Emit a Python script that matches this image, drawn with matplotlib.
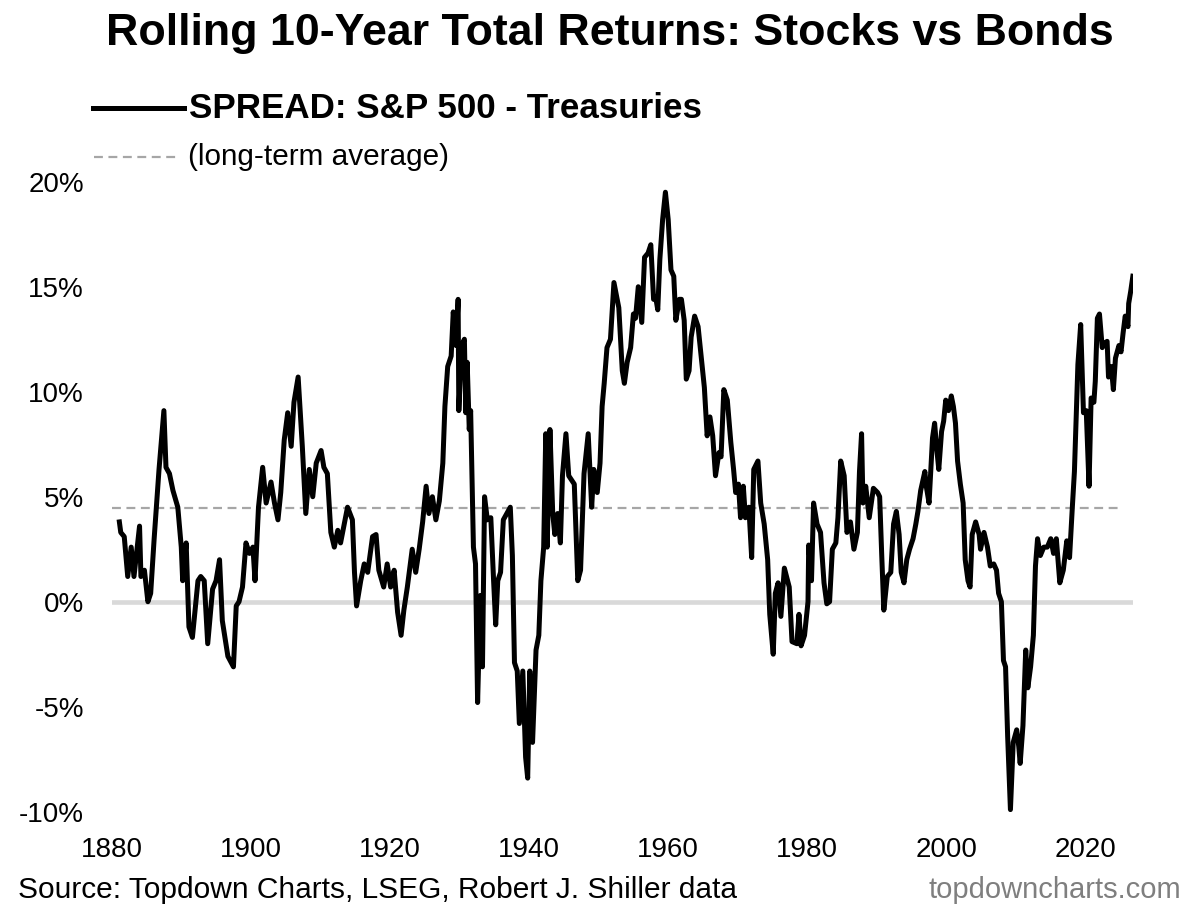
import matplotlib
matplotlib.use("Agg")
import matplotlib.pyplot as plt
from matplotlib.lines import Line2D
import numpy as np

plt.rcParams['font.family'] = ['Liberation Sans', 'DejaVu Sans']

# rolling 10y spread (S&P 500 total return minus Treasuries), % p.a.
years = [
    1881.1, 1881.3, 1881.8, 1882.3, 1882.8, 1883.2, 1884.0, 1884.2, 1884.7, 1885.2,
    1885.6, 1886.1, 1886.8, 1887.5, 1887.8, 1888.3, 1888.8, 1889.5, 1890.0, 1890.2,
    1890.7, 1891.1, 1891.6, 1892.4, 1892.8, 1893.3, 1893.8, 1894.5, 1895.0, 1895.5,
    1895.9, 1896.7, 1897.5, 1897.9, 1898.3, 1898.8, 1899.3, 1899.8, 1900.3, 1900.6,
    1901.1, 1901.7, 1902.2, 1902.9, 1903.4, 1903.9, 1904.3, 1904.8, 1905.3, 1905.8,
    1906.2, 1906.8, 1907.4, 1907.9, 1908.4, 1908.9, 1909.4, 1910.1, 1910.5, 1911.0,
    1911.5, 1912.0, 1912.5, 1912.9, 1913.9, 1914.6, 1914.9, 1915.2, 1915.8, 1916.3,
    1916.8, 1917.5, 1918.0, 1918.4, 1919.1, 1919.6, 1920.1, 1920.6, 1921.1, 1921.6,
    1922.0, 1922.5, 1923.2, 1923.7, 1924.2, 1924.7, 1925.2, 1925.6, 1926.1, 1926.6,
    1927.1, 1927.6, 1927.9, 1928.3, 1928.8, 1929.1, 1929.5, 1929.8, 1929.9, 1930.3,
    1930.7, 1930.9, 1931.1, 1931.4, 1931.6, 1932.0, 1932.3, 1932.6, 1933.0, 1933.3,
    1933.6, 1934.0, 1934.5, 1934.9, 1935.2, 1935.5, 1935.9, 1936.3, 1936.8, 1937.3,
    1937.6, 1937.9, 1938.3, 1938.6, 1939.1, 1939.5, 1939.8, 1940.1, 1940.5, 1941.0,
    1941.4, 1941.7, 1942.1, 1942.4, 1942.6, 1943.0, 1943.4, 1943.7, 1944.1, 1944.5,
    1944.8, 1945.3, 1945.7, 1946.5, 1947.0, 1947.4, 1947.9, 1948.5, 1949.0, 1949.3,
    1949.8, 1950.2, 1950.5, 1950.8, 1951.2, 1951.7, 1952.2, 1952.9, 1953.4, 1953.7,
    1954.1, 1954.6, 1955.0, 1955.3, 1955.7, 1956.2, 1956.6, 1957.1, 1957.5, 1957.9,
    1958.2, 1958.5, 1958.8, 1959.2, 1959.6, 1960.0, 1960.4, 1960.8, 1961.1, 1961.6,
    1961.9, 1962.3, 1962.6, 1963.0, 1963.3, 1963.8, 1964.3, 1964.7, 1965.2, 1965.6,
    1966.0, 1966.4, 1966.8, 1967.3, 1967.6, 1968.0, 1968.5, 1969.0, 1969.4, 1969.7,
    1970.1, 1970.4, 1970.8, 1971.1, 1971.6, 1972.0, 1972.3, 1972.9, 1973.3, 1973.8,
    1974.3, 1974.6, 1975.1, 1975.4, 1975.8, 1976.2, 1976.7, 1977.4, 1977.8, 1978.5,
    1978.8, 1979.1, 1979.6, 1980.1, 1980.2, 1980.6, 1980.9, 1981.4, 1981.9, 1982.4,
    1982.8, 1983.2, 1983.6, 1984.1, 1984.4, 1984.8, 1985.3, 1985.7, 1986.2, 1986.7,
    1987.2, 1987.5, 1987.8, 1988.0, 1988.4, 1988.9, 1989.5, 1990.1, 1990.4, 1990.7,
    1991.0, 1991.5, 1992.0, 1992.4, 1992.8, 1993.2, 1993.5, 1993.9, 1994.3, 1994.7,
    1995.2, 1995.6, 1995.9, 1996.3, 1996.9, 1997.1, 1997.5, 1998.0, 1998.3, 1998.6,
    1998.9, 1999.3, 1999.6, 1999.9, 2000.3, 2000.7, 2001.0, 2001.3, 2001.6, 2002.0,
    2002.4, 2002.7, 2003.1, 2003.4, 2003.7, 2004.2, 2004.7, 2004.9, 2005.4, 2005.9,
    2006.3, 2006.8, 2007.2, 2007.5, 2007.9, 2008.2, 2008.5, 2008.8, 2009.2, 2009.6,
    2010.1, 2010.4, 2010.6, 2011.0, 2011.4, 2011.7, 2012.1, 2012.5, 2012.8, 2013.1,
    2013.5, 2014.0, 2014.5, 2015.0, 2015.4, 2015.8, 2016.3, 2016.8, 2017.3, 2017.7,
    2018.1, 2018.4, 2018.7, 2018.9, 2019.3, 2019.7, 2020.1, 2020.5, 2020.8, 2021.2,
    2021.4, 2021.7, 2022.0, 2022.4, 2022.7, 2023.1, 2023.3, 2023.7, 2024.0, 2024.3,
    2024.8, 2025.1, 2025.4, 2025.7, 2026.1, 2026.2, 2026.5, 2026.8,
]
spread = [
    3.8, 3.3, 3.1, 1.2, 2.6, 1.2, 3.6, 1.2, 1.5, 0.0,
    0.4, 3.0, 6.3, 9.1, 6.4, 6.1, 5.3, 4.5, 2.6, 1.0,
    2.8, -1.2, -1.7, 1.0, 1.2, 1.0, -2.0, 0.6, 1.0, 2.0,
    -0.9, -2.6, -3.1, -0.2, 0.0, 0.7, 2.8, 2.3, 2.6, 1.0,
    4.5, 6.4, 4.7, 5.7, 4.7, 3.9, 5.2, 7.7, 9.0, 7.4,
    9.5, 10.7, 7.4, 4.2, 6.3, 5.0, 6.6, 7.2, 6.4, 6.1,
    3.3, 2.6, 3.4, 2.8, 4.5, 3.9, 1.4, -0.2, 1.0, 1.8,
    1.4, 3.1, 3.2, 1.5, 0.7, 1.8, 0.7, 1.5, -0.5, -1.6,
    -0.4, 0.7, 2.5, 1.4, 2.5, 3.8, 5.5, 4.2, 5.0, 3.9,
    4.8, 6.6, 9.3, 11.2, 11.7, 13.8, 12.2, 14.4, 9.1, 12.2,
    12.5, 9.0, 11.4, 8.2, 9.1, 2.6, 1.8, -4.8, 0.3, -3.1,
    5.0, 3.9, 4.0, 1.0, -1.1, 1.0, 1.4, 3.9, 4.2, 4.5,
    2.2, -2.9, -3.3, -5.8, -3.3, -7.4, -8.4, -3.3, -6.7, -2.3,
    -1.6, 1.0, 2.6, 8.0, 2.6, 8.2, 4.2, 3.2, 4.2, 2.8,
    6.0, 8.0, 6.0, 5.6, 1.0, 1.5, 6.1, 8.0, 4.5, 6.3,
    5.2, 6.6, 9.3, 10.4, 12.1, 12.5, 15.2, 14.0, 11.0, 10.4,
    11.4, 12.1, 13.7, 13.5, 15.0, 13.3, 16.4, 16.6, 17.0, 14.4,
    14.5, 13.9, 16.3, 18.2, 19.5, 18.2, 15.8, 15.5, 13.4, 14.4,
    14.4, 13.4, 10.6, 11.0, 12.6, 13.6, 13.1, 11.8, 10.2, 7.9,
    8.8, 7.9, 6.0, 7.1, 6.9, 10.1, 9.6, 7.6, 6.3, 5.2,
    5.6, 4.0, 5.5, 4.0, 4.5, 2.1, 6.3, 6.7, 4.7, 3.7,
    2.0, -0.6, -2.5, 0.4, 0.9, -0.7, 1.6, 0.7, -1.9, -2.0,
    -0.6, -2.1, -1.6, 0.0, 2.7, 1.0, 4.7, 3.7, 3.3, 0.9,
    -0.1, 0.0, 2.5, 2.8, 4.0, 6.7, 6.0, 3.3, 3.8, 2.5,
    3.3, 6.2, 8.0, 4.7, 5.5, 4.0, 5.4, 5.2, 5.0, 2.2,
    -0.4, 1.2, 1.4, 3.7, 4.3, 3.2, 1.4, 0.9, 2.0, 2.5,
    3.0, 3.7, 4.3, 5.3, 6.2, 5.5, 4.7, 7.8, 8.5, 7.3,
    6.3, 8.1, 8.6, 9.6, 9.1, 9.8, 9.3, 8.5, 6.7, 5.6,
    4.7, 2.0, 1.0, 0.7, 3.2, 3.8, 3.2, 2.5, 3.3, 2.6,
    1.7, 1.8, 1.5, 0.4, 0.0, -2.8, -3.1, -6.4, -9.9, -6.7,
    -6.1, -6.9, -7.7, -5.9, -2.3, -4.1, -3.1, -1.6, 1.7, 3.0,
    2.2, 2.6, 2.6, 3.0, 2.3, 3.0, 0.9, 1.5, 2.9, 2.1,
    4.5, 6.2, 9.3, 11.3, 13.2, 9.0, 9.1, 5.5, 9.7, 9.5,
    10.5, 13.5, 13.7, 12.1, 12.3, 12.4, 10.7, 11.2, 10.1, 11.6,
    12.2, 11.9, 12.8, 13.6, 13.1, 14.2, 14.8, 15.5,
]
long_term_avg = 4.45

ytick_vals = [-10, -5, 0, 5, 10, 15, 20]
xtick_vals = [1880, 1900, 1920, 1940, 1960, 1980, 2000, 2020]

fig = plt.figure(figsize=(12, 9.1), dpi=100)
ax = fig.add_axes([0.0931, 0.108, 0.851, 0.6923])

ax.axhline(0, color='#d9d9d9', lw=3.3, zorder=1)
ax.axhline(long_term_avg, xmin=0, xmax=0.988, color='#a6a6a6', lw=1.6,
           dashes=(4, 2.5), zorder=2)
ax.plot(years, spread, color='black', lw=3.6, solid_joinstyle='round', zorder=3)

ax.set_xlim(1880.14, 2026.81)
ax.set_ylim(-10, 20)
ax.set_yticks(ytick_vals)
ax.set_yticklabels([f'{v}%' for v in ytick_vals])
ax.set_xticks(xtick_vals)
ax.set_xticklabels([str(v) for v in xtick_vals])
ax.tick_params(axis='both', length=0, labelsize=20, colors='black')
ax.tick_params(axis='x', pad=18)
ax.tick_params(axis='y', pad=20)
for s in ax.spines.values():
    s.set_visible(False)

fig.text(0.508, 1 - 45 / 910, 'Rolling 10-Year Total Returns: Stocks vs Bonds',
         ha='center', va='baseline', fontsize=32.2, fontweight='bold')

# legend drawn by hand at the top
fig.add_artist(Line2D([93 / 1200, 184 / 1200], [1 - 108 / 910, 1 - 108 / 910],
                      color='black', lw=3.6))
fig.text(189 / 1200, 1 - 108 / 910, 'SPREAD: S&P 500 - Treasuries',
         ha='left', va='center', fontsize=25.2, fontweight='bold')
fig.add_artist(Line2D([94 / 1200, 180 / 1200], [1 - 157 / 910, 1 - 157 / 910],
                      color='#a6a6a6', lw=1.6, dashes=(4, 2.5)))
fig.text(188 / 1200, 1 - 157 / 910, '(long-term average)',
         ha='left', va='center', fontsize=21.4)

fig.text(18 / 1200, 1 - 890 / 910, 'Source: Topdown Charts, LSEG, Robert J. Shiller data',
         ha='left', va='center', fontsize=21.5)
fig.text(1181 / 1200, 1 - 890 / 910, 'topdowncharts.com',
         ha='right', va='center', fontsize=21, color='#7f7f7f')

fig.savefig('out.png', dpi=100, facecolor='white')
